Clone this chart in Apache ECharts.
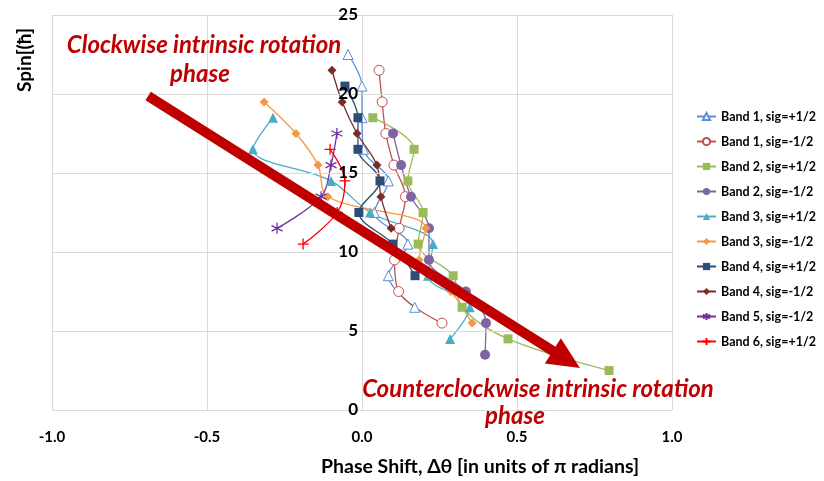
<!DOCTYPE html>
<html>
<head>
<meta charset="utf-8">
<script src="https://cdn.jsdelivr.net/npm/echarts@6/dist/echarts.min.js"></script>
<style>html,body{margin:0;padding:0;background:#fff;}#c{width:824px;height:481px;}</style>
</head>
<body>
<div id="c"></div>
<script>
const seriesNames = ['Band 1, sig=+1/2','Band 1, sig=-1/2','Band 2, sig=+1/2','Band 2, sig=-1/2','Band 3, sig=+1/2','Band 3, sig=-1/2','Band 4, sig=+1/2','Band 4, sig=-1/2','Band 5, sig=-1/2','Band 6, sig=+1/2'];

const band1p_spin = [22.5,20.5,18.5,16.5,14.5,12.5,10.5,8.5,6.5];
const band1p_x    = [-0.045,0.0,0.0,0.005,0.085,0.04,0.148,0.085,0.17];
const band1m_spin = [21.5,19.5,17.5,15.5,13.5,11.5,9.5,7.5,5.5];
const band1m_x    = [0.055,0.065,0.077,0.103,0.14,0.12,0.105,0.118,0.258];
const band2p_spin = [18.5,16.5,14.5,12.5,10.5,8.5,6.5,4.5,2.5];
const band2p_x    = [0.035,0.168,0.148,0.197,0.181,0.294,0.323,0.471,0.797];
const band2m_spin = [17.5,15.5,13.5,11.5,9.5,7.5,5.5,3.5];
const band2m_x    = [0.1,0.126,0.158,0.216,0.216,0.335,0.4,0.397];
const band3p_spin = [18.5,16.5,14.5,12.5,10.5,8.5,6.5,4.5];
const band3p_x    = [-0.287,-0.352,-0.1,0.026,0.229,0.213,0.348,0.284];
const band3m_spin = [19.5,17.5,15.5,13.5,11.5,9.5,7.5,5.5];
const band3m_x    = [-0.316,-0.213,-0.142,-0.11,0.206,0.184,0.287,0.355];
const band4p_spin = [20.5,18.5,16.5,14.5,12.5,10.5,8.5];
const band4p_x    = [-0.055,-0.013,-0.013,0.058,-0.01,0.1,0.171];
const band4m_spin = [21.5,19.5,17.5,15.5,13.5,11.5];
const band4m_x    = [-0.097,-0.064,-0.016,0.048,0.061,0.094];
const band5m_spin = [17.5,15.5,13.5,11.5];
const band5m_x    = [-0.081,-0.1,-0.132,-0.274];
const band6p_spin = [16.5,14.5,12.5,10.5];
const band6p_x    = [-0.103,-0.055,-0.08,-0.19];

const xTicks = [-1.0,-0.5,0.0,0.5,1.0];
const arrowStart = [-0.69, 19.87];
const arrowTip = [0.703, 2.66];

const allSpin = [band1p_spin,band1m_spin,band2p_spin,band2m_spin,band3p_spin,band3m_spin,band4p_spin,band4m_spin,band5m_spin,band6p_spin];
const allX = [band1p_x,band1m_x,band2p_x,band2m_x,band3p_x,band3m_x,band4p_x,band4m_x,band5m_x,band6p_x];

const colors = ['#5A8FD6','#C0504D','#9BBB59','#8064A2','#4BACC6','#F79646','#2C4D75','#772C2A','#7030A0','#FF0000'];
const symbols = ['triangle','circle','rect','circle','triangle','diamond','rect','diamond',
  'path://M0,-5L0,5M-4.3,-2.5L4.3,2.5M-4.3,2.5L4.3,-2.5','path://M-5,0L5,0M0,-5L0,5'];
const sizes = [10,10,9,10,10,9,9,9,11,11];
const hollow = [true,true,false,false,false,false,false,false,false,false];
const strokeOnly = [false,false,false,false,false,false,false,false,true,true];

const FONT = 'Lato';
const series = seriesNames.map((n,i)=>({
  name:n, type:'line', smooth:0.35,
  data: allSpin[i].map((s,k)=>[allX[i][k], s]),
  symbol: symbols[i], symbolSize: sizes[i], showSymbol:true,
  lineStyle:{color:colors[i], width:1.3},
  itemStyle: hollow[i] ? {color:'#fff', borderColor:colors[i], borderWidth:1}
    : strokeOnly[i] ? {color:colors[i], borderColor:colors[i], borderWidth:1.3}
    : {color:colors[i], borderWidth:0},
  z:3
}));

const chart = echarts.init(document.getElementById('c'), null, {renderer:'canvas'});
const redFont = 'italic bold 24px Lato';
chart.setOption({
  animation:false,
  backgroundColor:'#fff',
  textStyle:{fontFamily:FONT},
  grid:{left:52, right:152, top:15, bottom:71, containLabel:false},
  legend:{
    orient:'vertical', left:691, top:105, itemWidth:19, itemHeight:9, itemGap:12,
    data: seriesNames,
    textStyle:{fontFamily:FONT, fontWeight:'bold', fontSize:12.5, color:'#000'}
  },
  xAxis:{
    type:'value', min:-1, max:1, interval:0.5,
    axisLine:{show:false, onZero:false}, axisTick:{show:false},
    splitLine:{show:true, lineStyle:{color:'#D9D9D9', width:1}},
    axisLabel:{margin:20, fontFamily:FONT, fontWeight:'bold', fontSize:15, color:'#000',
      formatter:v=>v.toFixed(1)}
  },
  yAxis:{
    type:'value', min:0, max:25, interval:5, position:'left', offset:-310, z:10,
    axisLine:{show:false, onZero:false}, axisTick:{show:false},
    splitLine:{show:true, lineStyle:{color:'#D9D9D9', width:1}},
    axisLabel:{margin:4, fontFamily:FONT, fontWeight:'bold', fontSize:17, color:'#000'}
  },
  series: series
});

// Arrow annotation placed through the chart's own coordinate conversion
const p0 = chart.convertToPixel({gridIndex:0}, arrowStart);
const p1 = chart.convertToPixel({gridIndex:0}, arrowTip);
const dx = p1[0]-p0[0], dy = p1[1]-p0[1];
const L = Math.sqrt(dx*dx+dy*dy), ux = dx/L, uy = dy/L;
const headLen = 32, headHalf = 15;
const bx = p1[0]-ux*headLen, by = p1[1]-uy*headLen;
chart.setOption({
  graphic:[
    {type:'line', z:50, shape:{x1:p0[0], y1:p0[1], x2:bx+ux*2, y2:by+uy*2}, style:{stroke:'#C00000', lineWidth:10}},
    {type:'polygon', z:50, shape:{points:[[p1[0],p1[1]],[bx-uy*headHalf, by+ux*headHalf],[bx+uy*headHalf, by-ux*headHalf]]}, style:{fill:'#C00000'}},
    {type:'text', z:60, x:204, y:45, style:{text:'Clockwise intrinsic rotation', fill:'#C00000', font:redFont, textAlign:'center', textVerticalAlign:'middle'}},
    {type:'text', z:60, x:200, y:74, style:{text:'phase', fill:'#C00000', font:redFont, textAlign:'center', textVerticalAlign:'middle'}},
    {type:'text', z:60, x:538, y:389, style:{text:'Counterclockwise intrinsic rotation', fill:'#C00000', font:redFont, textAlign:'center', textVerticalAlign:'middle'}},
    {type:'text', z:60, x:515, y:416, style:{text:'phase', fill:'#C00000', font:redFont, textAlign:'center', textVerticalAlign:'middle'}},
    {type:'text', z:60, x:480, y:467, style:{text:'Phase Shift, \u0394\u03b8 [in units of \u03c0 radians]', fill:'#000', font:'bold 19.5px Lato', textAlign:'center', textVerticalAlign:'middle'}},
    {type:'text', z:60, x:25, y:60, rotation:Math.PI/2, style:{text:'Spin[(\u0127]', fill:'#000', font:'bold 19px Lato', textAlign:'center', textVerticalAlign:'middle'}}
  ]
});
</script>
</body>
</html>
